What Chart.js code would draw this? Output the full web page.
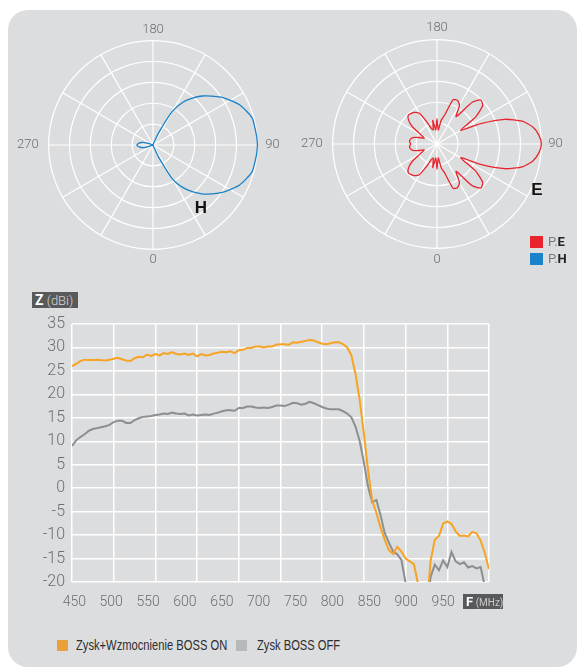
<!DOCTYPE html>
<html lang="pl">
<head>
<meta charset="UTF-8">
<title>Charakterystyka anteny</title>
<script src="https://cdn.jsdelivr.net/npm/chart.js@4"></script>
<style>
  body { margin: 0; background: #fff; font-family: Roboto, 'Liberation Sans', sans-serif; }
  .panel { position: absolute; left: 8px; top: 10px; width: 569px; height: 657px; background: #dcdddf; border-radius: 20px; }
  canvas { position: absolute; }
  .lbl { position: absolute; white-space: nowrap; }
  .tag { position: absolute; background: #58595b; color: #fff; line-height: 16px; white-space: nowrap; }
  .sq { position: absolute; }
  .leg { position: absolute; font: 15px 'Liberation Sans', Arial, sans-serif; color: #2e2e2e; line-height: 16px; white-space: nowrap; transform: scaleX(0.745); transform-origin: 0 50%; }
</style>
</head>
<body>
  <div class="panel"></div>

  <canvas id="polarH" width="272" height="272" style="left:13px; top:10px"></canvas>
  <canvas id="polarE" width="272" height="272" style="left:296px; top:9px"></canvas>
  <canvas id="gain" width="577" height="330" style="left:0; top:280px"></canvas>

  <div class="lbl" style="left:201px; top:208px; transform:translate(-50%,-50%); font:bold 17px 'Liberation Sans', sans-serif; color:#111">H</div>
  <div class="lbl" style="left:537px; top:190px; transform:translate(-50%,-50%); font:bold 17px 'Liberation Sans', sans-serif; color:#111">E</div>

  <div class="sq" style="left:530px; top:236px; width:13px; height:12px; background:#e8242c"></div>
  <div class="lbl" style="left:548px; top:234px; font-size:13px; line-height:15px; color:#7a7b7d">P.<b style="color:#222">E</b></div>
  <div class="sq" style="left:530px; top:253px; width:13px; height:12px; background:#1a82c8"></div>
  <div class="lbl" style="left:548px; top:251px; font-size:13px; line-height:15px; color:#7a7b7d">P.<b style="color:#222">H</b></div>

  <div class="tag" style="left:32px; top:292px; width:46px; height:16px; font-size:13px"><b style="font-size:14px; padding-left:3px">Z</b> <span style="color:#d6d6d6; font-weight:300">(dBi)</span></div>
  <div class="tag" style="left:463px; top:594px; width:40px; height:15px; line-height:15px; font-size:10px"><b style="font-size:13px; padding-left:3px">F</b> <span style="color:#c9c9c9">(MHz)</span></div>

  <div id="legend"></div>

  <script>
    // kąty charakterystyk (0 na dole, rosnąco przeciwnie do ruchu wskazówek)
    const polarAngles = [0, 5, 10, 15, 20, 25, 30, 35, 40, 45, 50, 55, 60, 65, 70, 75, 80, 85,
      90, 95, 100, 105, 110, 115, 120, 125, 130, 135, 140, 145, 150, 155, 160, 165, 170, 175,
      180, 185, 190, 195, 200, 205, 210, 215, 220, 225, 230, 235, 240, 245, 250, 255, 260, 265,
      270, 275, 280, 285, 290, 295, 300, 305, 310, 315, 320, 325, 330, 335, 340, 345, 350, 355];
    const polarTickLabels = ['0', '90', '180', '270'];

    // P.H [dB]
    const patternH = [-50, -50, -50, -50, -49, -43.5, -31, -25.2, -20.8, -16.9, -13.6, -10.2, -7.3, -4.4, -2.5, -0.8, -0.5, -0.2,
      0, -0.2, -0.5, -0.7, -2.4, -4.3, -7.2, -10.1, -13.5, -16.8, -20.7, -25, -31.3, -43.3, -49, -50, -50, -50,
      -50, -50, -50, -50, -50, -50, -50, -50, -50, -50, -50, -50, -50, -50, -49, -45.2, -43.8, -42.8,
      -42.3, -42.8, -43.8, -45.2, -49, -50, -50, -50, -50, -50, -50, -50, -50, -50, -50, -50, -50, -50];

    // P.E [dB]
    const patternE = [-38, -43.3, -38.5, -35.5, -27.4, -26.9, -28.5, -34, -24, -20.2, -21.5, -27.5, -37, -26.9, -15.4, -7.7, -3.4, -1,
      0, -1, -3.4, -7.7, -15.4, -26.9, -37, -27.5, -21.5, -20.2, -24, -34, -28.5, -26.9, -27.4, -35.5, -38.5, -43.3,
      -38, -43.3, -38.5, -43, -42, -38, -33, -31.5, -30.8, -30.5, -32.2, -35.6, -41, -43.3, -40.9, -38, -37, -36.8,
      -37.3, -36.8, -37, -38, -40.9, -43.3, -41, -35.6, -32.2, -30.5, -30.8, -31.5, -33, -38, -42, -43, -38.5, -43.3];

    // zysk w funkcji częstotliwości
    const freqMHz = [450, 455, 460, 465, 470, 475, 480, 485, 490, 495, 500, 505, 510, 515, 520, 525, 530, 535, 540, 545,
      550, 555, 560, 565, 570, 575, 580, 585, 590, 595, 600, 605, 610, 615, 620, 625, 630, 635, 640, 645,
      650, 655, 660, 665, 670, 675, 680, 685, 690, 695, 700, 705, 710, 715, 720, 725, 730, 735, 740, 745,
      750, 755, 760, 765, 770, 775, 780, 785, 790, 795, 800, 805, 810, 815, 820, 825, 830, 835, 840, 845,
      850, 855, 860, 865, 870, 875, 880, 885, 890, 895, 900, 905, 910, 915, 920, 925, 930, 935, 940, 945, 950];
    const bossOn = [26.0, 26.5, 27.1, 27.4, 27.3, 27.3, 27.4, 27.3, 27.2, 27.4, 27.6, 27.8, 27.5, 27.2, 27.1, 27.7, 28.0, 27.9, 28.5, 28.2,
      28.6, 28.3, 28.8, 28.6, 29.0, 28.6, 28.5, 28.7, 28.4, 28.7, 28.1, 28.6, 28.3, 28.4, 28.7, 28.9, 29.1, 29.0, 29.2, 28.8,
      29.4, 29.5, 29.9, 29.9, 30.2, 30.2, 30.0, 30.2, 30.2, 30.6, 30.7, 30.7, 30.6, 31.1, 31.0, 31.2, 31.4, 31.6, 31.5, 31.1,
      30.8, 30.7, 30.9, 31.1, 31.1, 30.7, 30.0, 28.3, 24.3, 18.7, 11.6, 3.8, -2.7, -5.3, -8.4, -11.0, -13.2, -14.0, -12.5, -13.5,
      -15.0, -15.6, -16.2, -20.5, -26, -26, -15.5, -11.0, -10.2, -7.5, -7.1, -7.6, -9.2, -10.2, -10.1, -10.3, -9.3, -9.6, -11.2, -13.8, -17.3];
    const bossOff = [9.0, 10.2, 10.9, 11.5, 12.2, 12.6, 12.8, 13.0, 13.2, 13.5, 14.1, 14.4, 14.4, 13.9, 13.9, 14.5, 14.9, 15.2, 15.3, 15.4,
      15.6, 15.7, 15.9, 15.8, 16.1, 15.9, 15.8, 15.9, 15.5, 15.7, 15.5, 15.6, 15.7, 15.6, 15.9, 16.1, 16.4, 16.6, 16.6, 16.5,
      17.1, 17.1, 17.4, 17.4, 17.2, 17.1, 17.2, 17.1, 17.3, 17.6, 17.6, 17.5, 17.8, 18.2, 18.1, 17.8, 18.0, 18.4, 18.1, 17.7,
      17.3, 17.0, 16.8, 16.8, 16.8, 16.4, 15.9, 15.1, 13.1, 10.0, 5.5, 0.3, -3.0, -2.5, -5.8, -9.6, -11.6, -13.5, -14.1, -15.3,
      -20.2, -26, -26, -26, -26, -26, -18.9, -16.3, -17.5, -15.4, -16.8, -13.6, -15.6, -16.2, -15.8, -16.9, -16.6, -17.1, -16.8, -21, -25];

    const seriesNames = ['Zysk+Wzmocnienie BOSS ON', 'Zysk BOSS OFF'];
    const xTickLabels = [450, 500, 550, 600, 650, 700, 750, 800, 850, 900, 950];
    const yTickLabels = [-20, -15, -10, -5, 0, 5, 10, 15, 20, 25, 30, 35];

    Chart.defaults.font.family = "Roboto, 'Liberation Sans', sans-serif";

    function polarChart(id, values, color, pads) {
      const n = polarAngles.length;
      // radar idzie zgodnie z zegarem, więc odwracamy kolejność kątów
      const order = polarAngles.map((a, i) => (n - i) % n);
      return new Chart(document.getElementById(id), {
        type: 'radar',
        data: {
          labels: order.map(k => String(polarAngles[k])),
          datasets: [{
            data: order.map(k => values[k]),
            borderColor: color,
            borderWidth: 1.3,
            pointRadius: 0,
            fill: false,
            tension: 0.2
          }]
        },
        options: {
          responsive: false,
          animation: false,
          plugins: { legend: { display: false }, tooltip: { enabled: false } },
          scales: {
            r: {
              min: -50,
              max: 0,
              startAngle: 180,
              ticks: { display: false, stepSize: 10 },
              grid: { circular: true, color: '#fff', lineWidth: 1.2 },
              angleLines: { color: '#fff', lineWidth: c => c.index % 6 === 0 ? 1.2 : 0 },
              pointLabels: {
                callback: l => polarTickLabels.includes(l) ? l : '',
                padding: c => pads[c.label] || 0,
                color: '#6d6e71',
                font: { size: 13, weight: '300' }
              }
            }
          }
        }
      });
    }

    polarChart('polarH', patternH, '#1a82c8', { '0': 3, '90': 8, '180': 3, '270': 10 });
    polarChart('polarE', patternE, '#e8242c', { '0': 4, '90': 7, '180': 4, '270': 10 });

    new Chart(document.getElementById('gain'), {
      type: 'line',
      data: {
        datasets: [{
          label: seriesNames[0],
          data: freqMHz.map((f, i) => ({ x: f, y: bossOn[i] })),
          borderColor: '#f7a323',
          borderWidth: 2,
          pointRadius: 0,
          tension: 0
        }, {
          label: seriesNames[1],
          data: freqMHz.map((f, i) => ({ x: f, y: bossOff[i] })),
          borderColor: '#8d8e90',
          borderWidth: 2,
          pointRadius: 0,
          tension: 0
        }]
      },
      options: {
        responsive: false,
        animation: false,
        layout: { padding: { top: 44, right: 88, left: 0, bottom: 0 } },
        plugins: { legend: { display: false }, tooltip: { enabled: false } },
        scales: {
          x: {
            type: 'linear',
            min: 450,
            max: 950,
            ticks: { display: false, stepSize: 50, maxTicksLimit: 20 },
            grid: { color: '#fff', lineWidth: 1.5, drawTicks: false },
            border: { display: false }
          },
          // etykiety osi F są w oryginale rozsunięte inaczej niż siatka
          xLabels: {
            type: 'linear',
            position: 'bottom',
            min: 446.9,
            max: 1012.3,
            afterBuildTicks: axis => { axis.ticks = xTickLabels.map(v => ({ value: v })); },
            afterFit: axis => { axis.height = 28; },
            ticks: { padding: 12, autoSkip: false, maxRotation: 0, color: '#6d6e71', font: { size: 14, weight: '300' } },
            grid: { display: false, drawTicks: false },
            border: { display: false }
          },
          y: {
            min: -20,
            max: 35,
            afterBuildTicks: axis => { axis.ticks = yTickLabels.map(v => ({ value: v })); },
            afterFit: axis => { axis.width = 72; },
            ticks: { padding: 7, autoSkip: false, color: '#6d6e71', font: { size: 16, weight: '300' } },
            grid: { color: '#fff', lineWidth: 1.5, drawTicks: false },
            border: { display: false }
          }
        }
      }
    });

    // legenda pod wykresem
    const legendColors = ['#e9a23b', '#b8b9bb'];
    const legendX = [[57, 76], [236, 257]];
    let html = '';
    seriesNames.forEach((name, i) => {
      html += `<div class="sq" style="left:${legendX[i][0]}px; top:640px; width:11px; height:11px; background:${legendColors[i]}"></div>`;
      html += `<div class="leg" style="left:${legendX[i][1]}px; top:637px">${name}</div>`;
    });
    document.getElementById('legend').innerHTML = html;
  </script>
</body>
</html>
